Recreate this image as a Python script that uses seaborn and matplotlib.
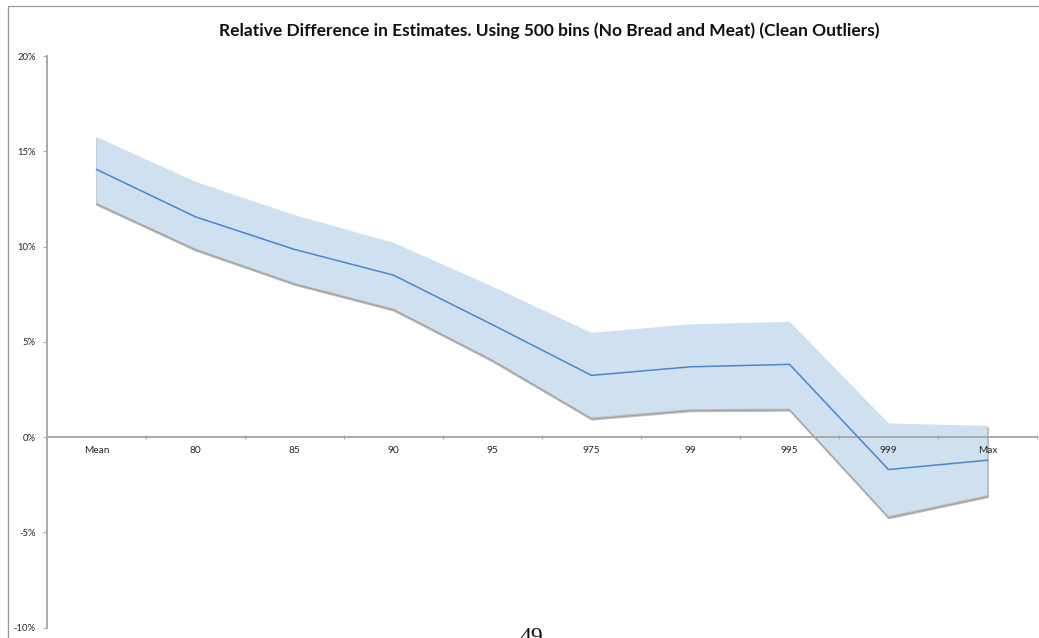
import numpy as np
import pandas as pd
import matplotlib
matplotlib.use("Agg")
import matplotlib.pyplot as plt
import matplotlib.transforms as mtransforms
from matplotlib.lines import Line2D
import seaborn as sns

# Relative difference (%) per estimate, with its upper / lower bounds
categories = ["Mean", "80", "85", "90", "95", "975", "99", "995", "999", "Max"]
estimate = [14.05, 11.56, 9.85, 8.50, 5.90, 3.24, 3.69, 3.82, -1.70, -1.21]
upper = [15.75, 13.40, 11.65, 10.20, 7.90, 5.47, 5.92, 6.05, 0.72, 0.59]
lower = [12.30, 9.90, 8.10, 6.75, 4.08, 1.03, 1.47, 1.50, -4.15, -3.04]
y_ticks = [-10, -5, 0, 5, 10, 15, 20]
title = "Relative Difference in Estimates. Using 500 bins (No Bread and Meat) (Clean Outliers)"
page_number = "49"

sns.set_theme(style="ticks")
plt.rcParams["font.family"] = ["Lato", "DejaVu Sans"]

W, H = 1039, 638
fig = plt.figure(figsize=(W / 100, H / 100), dpi=100)
ax = fig.add_axes([47 / W, 1 - 627.7 / H, 990 / W, (627.7 - 56) / H])
ax.set_axisbelow(False)

df = pd.DataFrame({
    "pos": np.arange(len(categories)),
    "category": categories,
    "estimate": estimate,
    "upper": upper,
    "lower": lower,
})

# soft drop shadow under the band
shadow_tr = mtransforms.offset_copy(ax.transData, fig=fig, x=0, y=-1.6, units="dots")
ax.fill_between(df["pos"], df["lower"], df["upper"], transform=shadow_tr,
                facecolor="#808080", edgecolor="#808080", linewidth=1.5,
                alpha=0.5, zorder=1)
# confidence band
ax.fill_between(df["pos"], df["lower"], df["upper"],
                facecolor="#CFE0F1", edgecolor="none", zorder=1.5)
# central estimate
sns.lineplot(data=df, x="pos", y="estimate", color="#4A86C8",
             linewidth=1.1, ax=ax, zorder=3)

ax.set_xlim(-0.5, len(categories) - 0.5)
ax.set_ylim(-10, 20)
ax.set_xlabel("")
ax.set_ylabel("")

for side in ["top", "right"]:
    ax.spines[side].set_visible(False)
for side in ["left", "bottom"]:
    ax.spines[side].set_color("#A9A9A9")
    ax.spines[side].set_linewidth(1.4)
    ax.spines[side].set_zorder(2.5)
ax.spines["bottom"].set_position(("data", 0))

ax.set_xticks(df["pos"])
ax.set_xticklabels(categories)
ax.set_xticks(np.arange(-0.5, len(categories), 1), minor=True)
ax.tick_params(axis="x", which="major", length=0, pad=6.5,
               labelsize=7.3, labelcolor="#262626")
ax.tick_params(axis="x", which="minor", length=3, width=0.8,
               color="#A9A9A9", direction="inout")

ax.set_yticks(y_ticks)
ax.set_yticklabels([f"{v}%" for v in y_ticks])
ax.tick_params(axis="y", length=3, width=0.8, color="#A9A9A9", pad=5,
               labelsize=6.8, labelcolor="#262626")

fig.text(549 / W, 1 - 31 / H, title, ha="center", va="center",
         fontsize=12.5, fontweight="bold", color="#111111")

# chart area border
fig.add_artist(Line2D([8 / W, 8 / W], [0, 1 - 6 / H], transform=fig.transFigure,
                      color="#9A9A9A", linewidth=0.9))
fig.add_artist(Line2D([8 / W, 1], [1 - 6 / H, 1 - 6 / H], transform=fig.transFigure,
                      color="#9A9A9A", linewidth=0.9))

# page number at the foot of the page
fig.text(531 / W, 1 - 643 / H, page_number, ha="center", va="baseline",
         fontsize=17, family=["Liberation Serif"], color="#111111")

fig.savefig("out.png", dpi=100)
